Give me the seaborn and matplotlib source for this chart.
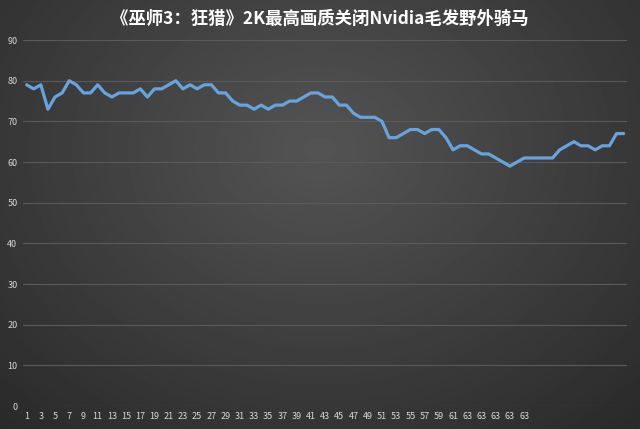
import numpy as np
import pandas as pd
import matplotlib
matplotlib.use("Agg")
import matplotlib.pyplot as plt
import seaborn as sns

# Data
fps = [79, 78, 79, 73, 76, 77, 80, 79, 77, 77, 79, 77, 76, 77, 77, 77, 78, 76, 78, 78,
       79, 80, 78, 79, 78, 79, 79, 77, 77, 75, 74, 74, 73, 74, 73, 74, 74, 75, 75, 76,
       77, 77, 76, 76, 74, 74, 72, 71, 71, 71, 70, 66, 66, 67, 68, 68, 67, 68, 68, 66,
       63, 64, 64, 63, 62, 62, 61, 60, 59, 60, 61, 61, 61, 61, 61, 63, 64, 65, 64, 64,
       63, 64, 64, 67, 67]
tick_labels = [str(n) for n in range(1, 64, 2)] + ["63", "63", "63", "63"]
y_ticks = list(range(0, 91, 10))
title = "《巫师3：狂猎》2K最高画质关闭Nvidia毛发野外骑马"

df = pd.DataFrame({"idx": range(len(fps)), "fps": fps})

sns.set_theme(style="dark")
plt.rcParams['font.family'] = ['Noto Sans CJK SC', 'DejaVu Sans']

fig = plt.figure(figsize=(6.4, 4.29), dpi=100)

# gradient background
bg = fig.add_axes([0, 0, 1, 1], zorder=-10)
yy, xx = np.mgrid[0:1:300j, 0:1:450j]
r = np.sqrt(((xx - 0.5) / 0.75) ** 2 + ((yy - 0.35) / 0.9) ** 2)
shade = 0.33 - 0.17 * np.clip(r, 0, 1)
bg.imshow(shade, cmap="gray", vmin=0, vmax=1, aspect="auto", extent=[0, 1, 0, 1])
bg.axis("off")

ax = fig.add_axes([0.036, 0.0536, 0.944, 0.853])
ax.patch.set_alpha(0)
sns.lineplot(data=df, x="idx", y="fps", ax=ax, color="#66a4df", linewidth=2.3)

ax.set_xlim(-0.5, len(fps) - 0.5)
ax.set_ylim(0, 90)
ax.set_yticks(y_ticks)
ax.set_yticklabels([str(v) for v in y_ticks], fontsize=6.5, color="#d8d8d8")
ax.set_xticks(range(0, 2 * len(tick_labels), 2))
ax.set_xticklabels(tick_labels, fontsize=6.5, color="#d8d8d8")
ax.tick_params(axis="both", length=0, pad=4)
ax.grid(axis="y", color="#5a5a5a", linewidth=0.8)
ax.grid(axis="x", visible=False)
ax.set_axisbelow(True)
for s in ax.spines.values():
    s.set_visible(False)
ax.set_xlabel("")
ax.set_ylabel("")

fig.text(0.5, 0.955, title, ha="center", va="center", fontsize=12.5,
         fontweight="bold", color="white")

fig.savefig("out.png", dpi=100)
